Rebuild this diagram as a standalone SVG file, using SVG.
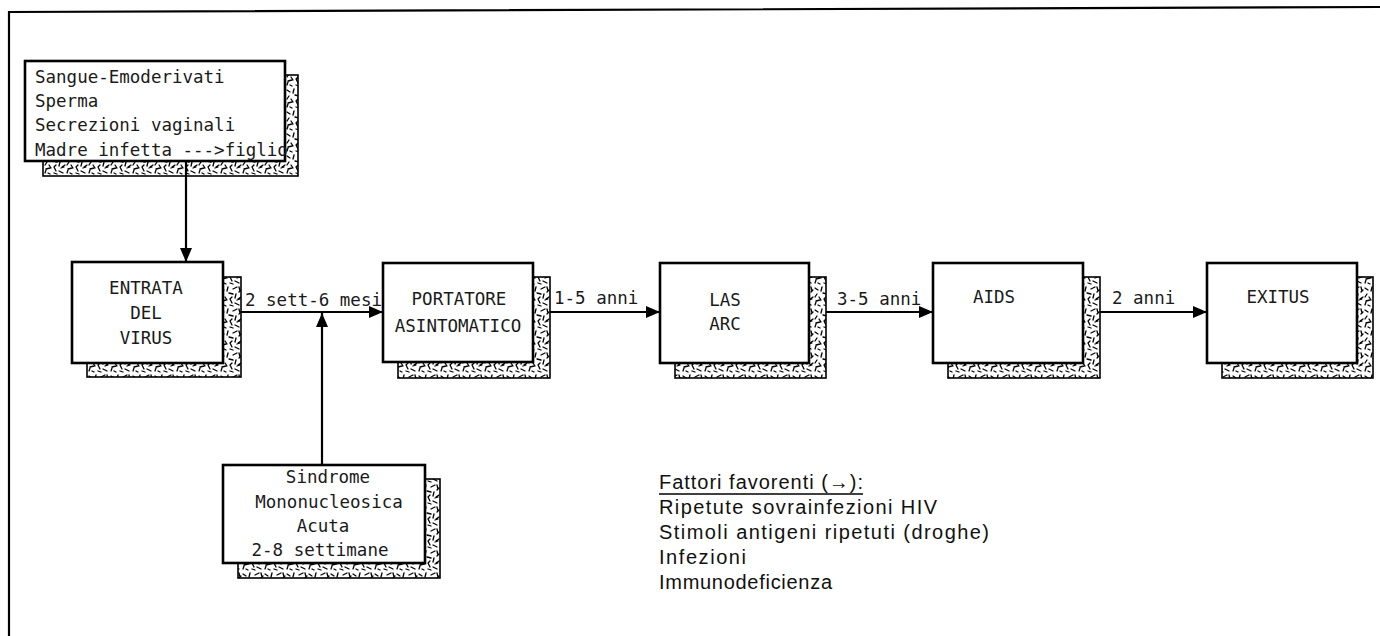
<svg xmlns="http://www.w3.org/2000/svg" width="1380" height="636" viewBox="0 0 1380 636">
<defs>
<pattern id="tex" x="0" y="0" width="22" height="22" patternUnits="userSpaceOnUse">
<path d="M1 2l3 2M8 1l-1 4M13 3l4-2M19 1l1 4M3 8l-2 3M9 7l4 1M16 8l-1 4M21 11l-3 2M2 15l4-1M10 13l2 4M15 17l4 2M6 20l-2-1M19 6l2-2M12 11l-2 2M5 11l2 3M17 14l3-1M10 19l3 1M1 19l1-3" stroke="#000" stroke-width="1.3" fill="none" stroke-linecap="round"/>
</pattern>
<marker id="ah" markerWidth="14" markerHeight="12" refX="14" refY="6" orient="auto" markerUnits="userSpaceOnUse">
<path d="M0 0L14 6L0 12Z" fill="#000"/>
</marker>
<style>
.box{fill:#fff;stroke:#000;stroke-width:2.6}
.sh{fill:url(#tex);stroke:#000;stroke-width:1.6}
.m{font-family:"DejaVu Sans Mono","Liberation Mono",monospace;font-size:17.5px;fill:#1a1a1a}
.c{text-anchor:middle}
.s{font-family:"Liberation Sans",Arial,sans-serif;font-size:20px;fill:#111}
.ln{stroke:#000;stroke-width:2.2;fill:none}
</style>
</defs>
<rect width="1380" height="636" fill="#fff"/>
<path d="M9 636V12L1380 7" fill="none" stroke="#000" stroke-width="2.2"/>

<g id="sources">
<rect class="sh" x="43" y="75" width="255" height="101"/>
<rect class="box" x="25" y="61" width="260" height="100"/>
<text class="m" x="35" y="83">Sangue-Emoderivati</text>
<text class="m" x="35" y="107">Sperma</text>
<text class="m" x="35" y="131">Secrezioni vaginali</text>
<text class="m" x="35" y="156">Madre infetta ---&gt;figlio</text>
</g>

<g id="entrata">
<rect class="sh" x="87" y="277" width="154" height="100"/>
<rect class="box" x="72" y="262" width="151" height="101"/>
<text class="m c" x="146" y="294">ENTRATA</text>
<text class="m c" x="146" y="319">DEL</text>
<text class="m c" x="146" y="344">VIRUS</text>
</g>

<g id="portatore">
<rect class="sh" x="398" y="277" width="152" height="101"/>
<rect class="box" x="383" y="263" width="150" height="99"/>
<text class="m c" x="459" y="305">PORTATORE</text>
<text class="m c" x="458" y="332">ASINTOMATICO</text>
</g>

<g id="las">
<rect class="sh" x="675" y="277" width="151" height="101"/>
<rect class="box" x="660" y="263" width="149" height="100"/>
<text class="m c" x="725" y="306">LAS</text>
<text class="m c" x="725" y="330">ARC</text>
</g>

<g id="aids">
<rect class="sh" x="948" y="277" width="152" height="101"/>
<rect class="box" x="933" y="263" width="150" height="100"/>
<text class="m c" x="994" y="303">AIDS</text>
</g>

<g id="exitus">
<rect class="sh" x="1222" y="277" width="151" height="101"/>
<rect class="box" x="1207" y="263" width="150" height="100"/>
<text class="m c" x="1278" y="303">EXITUS</text>
</g>

<g id="sindrome">
<rect class="sh" x="238" y="479" width="202" height="99"/>
<rect class="box" x="223" y="465" width="202" height="98"/>
<text class="m c" x="328" y="483">Sindrome</text>
<text class="m c" x="329" y="508">Mononucleosica</text>
<text class="m c" x="323" y="532">Acuta</text>
<text class="m c" x="320" y="556">2-8 settimane</text>
</g>

<g id="connectors">
<line class="ln" x1="186" y1="161" x2="186" y2="262" marker-end="url(#ah)"/>
<line class="ln" x1="241" y1="312" x2="383" y2="312" marker-end="url(#ah)"/>
<line class="ln" x1="322" y1="465" x2="322" y2="313" marker-end="url(#ah)"/>
<line class="ln" x1="550" y1="312" x2="660" y2="312" marker-end="url(#ah)"/>
<line class="ln" x1="826" y1="312" x2="933" y2="312" marker-end="url(#ah)"/>
<line class="ln" x1="1100" y1="312" x2="1207" y2="312" marker-end="url(#ah)"/>
<text class="m" x="245" y="306">2 sett-6 mesi</text>
<text class="m" x="554" y="304">1-5 anni</text>
<text class="m" x="837" y="305">3-5 anni</text>
<text class="m" x="1112" y="304">2 anni</text>
</g>

<g id="legend">
<text class="s" x="659" y="489" textLength="204" lengthAdjust="spacing">Fattori favorenti (→):</text>
<line x1="659" y1="494" x2="863" y2="494" stroke="#000" stroke-width="1.3"/>
<text class="s" x="659" y="514" textLength="278" lengthAdjust="spacing">Ripetute sovrainfezioni HIV</text>
<text class="s" x="659" y="539" textLength="330" lengthAdjust="spacing">Stimoli antigeni ripetuti (droghe)</text>
<text class="s" x="659" y="564" textLength="87" lengthAdjust="spacing">Infezioni</text>
<text class="s" x="659" y="589" textLength="173" lengthAdjust="spacing">Immunodeficienza</text>
</g>
</svg>
